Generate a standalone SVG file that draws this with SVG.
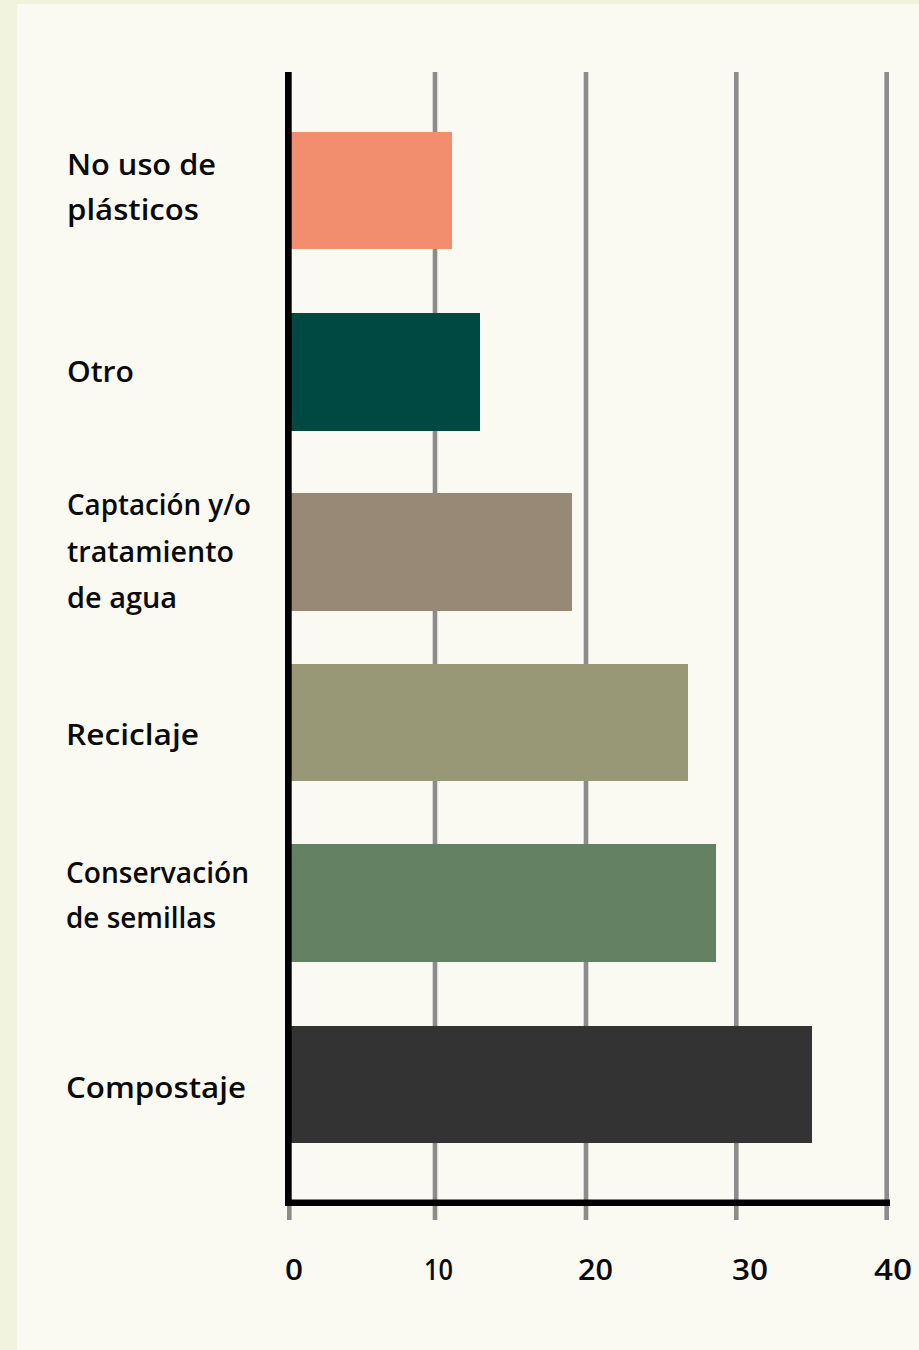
<svg xmlns="http://www.w3.org/2000/svg" width="919" height="1350" viewBox="0 0 919 1350">
<style>
.lbl{font-family:"Open Sans","Liberation Sans",sans-serif;font-weight:600;font-size:29px;fill:#0a0a0a}
.grid{fill:#8c8c8c}
</style>
<rect x="0" y="0" width="919" height="1350" fill="#f1f3de"/>
<rect x="17" y="4" width="902" height="1346" fill="#fafaf3"/>
<g id="grid">
<rect class="grid" x="287" y="1200" width="4.6" height="20"/>
<rect class="grid" x="432.7" y="72" width="4.6" height="1148"/>
<rect class="grid" x="583.7" y="72" width="4.6" height="1148"/>
<rect class="grid" x="734" y="72" width="4.6" height="1148"/>
<rect class="grid" x="884.4" y="72" width="4.6" height="1148"/>
</g>
<g id="bars">
<rect id="bar-plasticos" x="291" y="132" width="161" height="117" fill="#f28e6e"/>
<rect id="bar-otro" x="291" y="313" width="189" height="118" fill="#004842"/>
<rect id="bar-agua" x="291" y="493" width="281" height="118" fill="#988876"/>
<rect id="bar-reciclaje" x="291" y="664" width="397" height="117" fill="#999876"/>
<rect id="bar-semillas" x="291" y="844" width="425" height="118" fill="#648263"/>
<rect id="bar-compostaje" x="291" y="1026" width="521" height="117" fill="#333333"/>
</g>
<g id="axes">
<rect x="285" y="72" width="6.7" height="1134" fill="#000"/>
<rect x="285" y="1199.5" width="605" height="6.5" fill="#000"/>
</g>
<g id="labels">
<text class="lbl" x="67" y="175" textLength="149" lengthAdjust="spacingAndGlyphs">No uso de</text>
<text class="lbl" x="67" y="220" textLength="132" lengthAdjust="spacingAndGlyphs">plásticos</text>
<text class="lbl" x="67" y="382" textLength="67" lengthAdjust="spacingAndGlyphs">Otro</text>
<text class="lbl" x="67" y="515" textLength="184" lengthAdjust="spacingAndGlyphs">Captación y/o</text>
<text class="lbl" x="67" y="562" textLength="167" lengthAdjust="spacingAndGlyphs">tratamiento</text>
<text class="lbl" x="67" y="608" textLength="110" lengthAdjust="spacingAndGlyphs">de agua</text>
<text class="lbl" x="66" y="745" textLength="133" lengthAdjust="spacingAndGlyphs">Reciclaje</text>
<text class="lbl" x="66" y="883" textLength="183" lengthAdjust="spacingAndGlyphs">Conservación</text>
<text class="lbl" x="66" y="928" textLength="150" lengthAdjust="spacingAndGlyphs">de semillas</text>
<text class="lbl" x="66" y="1098" textLength="180" lengthAdjust="spacingAndGlyphs">Compostaje</text>
</g>
<g id="ticks">
<text class="lbl" x="285" y="1280" textLength="18" lengthAdjust="spacingAndGlyphs">0</text>
<text class="lbl" x="424" y="1280" textLength="29" lengthAdjust="spacingAndGlyphs">10</text>
<text class="lbl" x="578" y="1280" textLength="35" lengthAdjust="spacingAndGlyphs">20</text>
<text class="lbl" x="732" y="1280" textLength="36" lengthAdjust="spacingAndGlyphs">30</text>
<text class="lbl" x="874" y="1280" textLength="38" lengthAdjust="spacingAndGlyphs">40</text>
</g>
</svg>
